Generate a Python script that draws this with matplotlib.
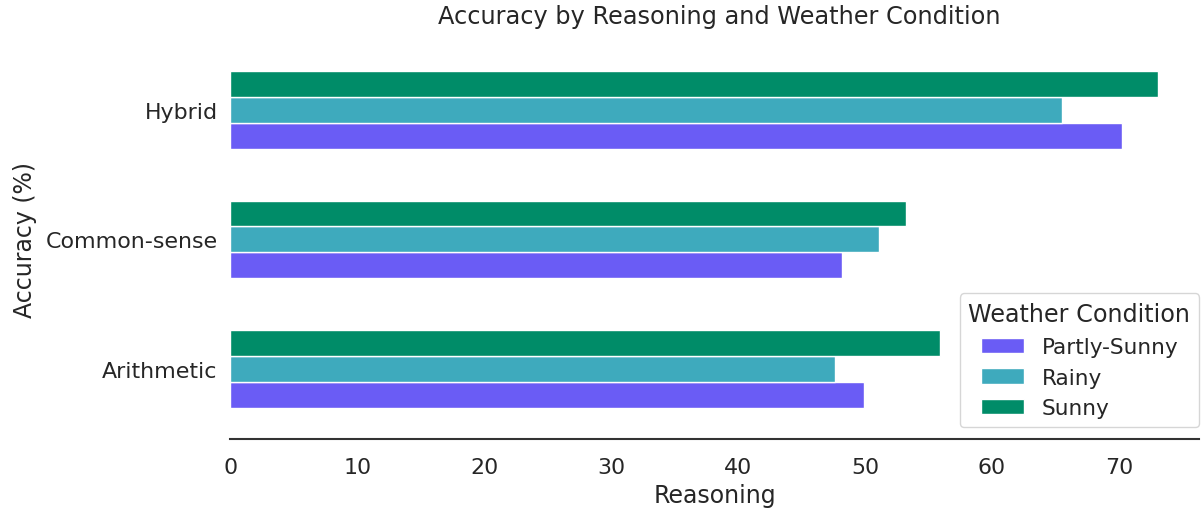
import matplotlib
matplotlib.use("Agg")
import matplotlib.pyplot as plt
import numpy as np

categories = ["Arithmetic", "Common-sense", "Hybrid"]
series_names = ["Partly-Sunny", "Rainy", "Sunny"]
partly_sunny = [49.9, 48.2, 70.2]
rainy = [47.6, 51.1, 65.5]
sunny = [55.9, 53.2, 73.1]
colors = ["#6a5cf5", "#3eaabd", "#008c68"]

values = [partly_sunny, rainy, sunny]

plt.rcParams["font.family"] = ["DejaVu Sans"]
text_color = "#262626"

fig = plt.figure(figsize=(12.02, 5.10), dpi=100)
ax = fig.add_axes([0.1915, 0.137, 0.806, 0.783])

y = np.arange(len(categories))
h = 0.2
for i, (name, vals, c) in enumerate(zip(series_names, values, colors)):
    ax.barh(y + (i - 1) * h, vals, height=h, color=c, edgecolor="white",
            linewidth=1.0, label=name)

ax.set_yticks(y)
ax.set_yticklabels(categories)
ax.set_ylim(-0.54, 2.54)
ax.set_xlim(0, 76.3)
ax.set_xticks(np.arange(0, 80, 10))

for s in ["top", "right", "left"]:
    ax.spines[s].set_visible(False)
ax.spines["bottom"].set_color("#333333")
ax.spines["bottom"].set_linewidth(1.5)
ax.tick_params(axis="both", length=0, labelsize=15.9, colors=text_color)
ax.tick_params(axis="y", pad=9)
ax.tick_params(axis="x", pad=13)

ax.set_xlabel("Reasoning", fontsize=17, color=text_color, labelpad=4)
ax.set_ylabel("Accuracy (%)", fontsize=17, color=text_color, labelpad=6)
ax.set_title("Accuracy by Reasoning and Weather Condition", fontsize=17.3,
             color=text_color, pad=12, x=0.505)

leg = ax.legend(title="Weather Condition", loc="lower right",
                bbox_to_anchor=(1.0, 0.03), fontsize=15.6, title_fontsize=17.2,
                frameon=True, borderaxespad=0.0, handletextpad=0.8)
leg.get_frame().set_edgecolor("#cccccc")
for t in leg.get_texts():
    t.set_color(text_color)
leg.get_title().set_color(text_color)

fig.savefig("out.png", dpi=100)
